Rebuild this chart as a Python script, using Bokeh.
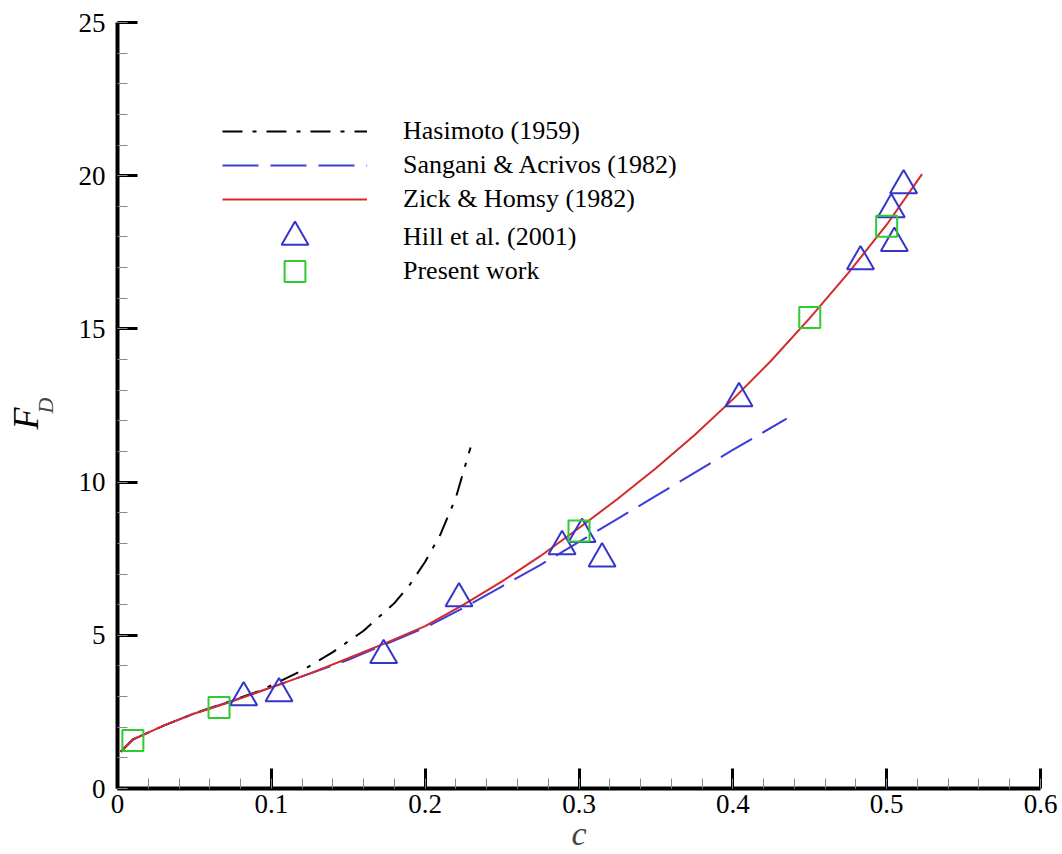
from bokeh.plotting import figure
from bokeh.models import Range1d, Legend, LegendItem, FixedTicker, Title
from bokeh.embed import file_html
from bokeh.resources import INLINE

# ---- data ----
zick_c = [0.002, 0.01, 0.03, 0.05, 0.075, 0.1, 0.125, 0.15, 0.175, 0.2, 0.225, 0.25,
          0.275, 0.3, 0.325, 0.35, 0.375, 0.4, 0.425, 0.45, 0.475, 0.5, 0.523]
zick_F = [1.2, 1.6, 2.05, 2.45, 2.85, 3.3, 3.75, 4.25, 4.76, 5.3, 6.0, 6.76,
          7.59, 8.5, 9.45, 10.45, 11.53, 12.7, 13.97, 15.35, 16.82, 18.4, 20.05]

sangani_c = [0.002, 0.01, 0.03, 0.05, 0.1, 0.15, 0.2, 0.225, 0.25, 0.275, 0.3, 0.325, 0.35,
             0.375, 0.4, 0.435]
sangani_F = [1.2, 1.6, 2.05, 2.45, 3.3, 4.2, 5.25, 5.9, 6.6, 7.3, 8.05, 8.8, 9.55,
             10.3, 11.05, 12.07]

hasimoto_c = [0.002, 0.01, 0.03, 0.05, 0.075, 0.093, 0.12, 0.14, 0.16, 0.18, 0.19, 0.2,
              0.21, 0.22, 0.2295]
hasimoto_F = [1.2, 1.6, 2.05, 2.45, 2.88, 3.2, 3.85, 4.45, 5.15, 6.05, 6.65, 7.4,
              8.3, 9.5, 11.13]

hill_c = [0.082, 0.105, 0.173, 0.222, 0.289, 0.302, 0.315, 0.404, 0.483, 0.503, 0.505, 0.511]
hill_F = [2.97, 3.1, 4.35, 6.2, 7.9, 8.3, 7.5, 12.73, 17.2, 18.9, 17.8, 19.68]

present_c = [0.01, 0.066, 0.3, 0.45, 0.5]
present_F = [1.57, 2.64, 8.4, 15.37, 18.35]

x_ticks = [0, 0.1, 0.2, 0.3, 0.4, 0.5, 0.6]
x_tick_labels = ["0", "0.1", "0.2", "0.3", "0.4", "0.5", "0.6"]
x_minor = [i * 0.02 for i in range(31)]
y_ticks = [0, 5, 10, 15, 20, 25]
y_tick_labels = ["0", "5", "10", "15", "20", "25"]
y_minor = [float(i) for i in range(26)]

labels = ["Hasimoto (1959)", "Sangani & Acrivos (1982)", "Zick & Homsy (1982)",
          "Hill et al. (2001)", "Present work"]
x_title = "c"
y_title_main = "F"
y_title_sub = "D"

FONT = "Liberation Serif"

p = figure(width=1062, height=854, output_backend="svg", toolbar_location=None,
           x_range=Range1d(0, 0.6), y_range=Range1d(0, 25),
           min_border_left=117, min_border_right=22, min_border_top=22, min_border_bottom=66)
p.outline_line_color = None
p.background_fill_color = "white"
p.border_fill_color = "white"
p.grid.visible = False

for ax, ticks, tl, mt in ((p.xaxis[0], x_ticks, x_tick_labels, x_minor),
                          (p.yaxis[0], y_ticks, y_tick_labels, y_minor)):
    ax.ticker = FixedTicker(ticks=ticks, minor_ticks=mt)
    ax.major_label_overrides = {t: l for t, l in zip(ticks, tl)}
    ax.axis_line_width = 4
    ax.axis_line_color = "black"
    ax.major_tick_in = 20
    ax.major_tick_out = 0
    ax.major_tick_line_width = 3
    ax.major_tick_line_color = "black"
    ax.minor_tick_in = 10
    ax.minor_tick_out = 0
    ax.minor_tick_line_width = 1
    ax.minor_tick_line_color = "#888888"
    ax.major_label_text_font = FONT
    ax.major_label_text_font_size = "27px"
    ax.major_label_text_color = "black"

xa = p.xaxis[0]
xa.major_label_standoff = 6
xa.axis_label = x_title
xa.axis_label_text_font = FONT
xa.axis_label_text_font_style = "italic"
xa.axis_label_text_font_size = "34px"
xa.axis_label_standoff = -1

ya = p.yaxis[0]
ya.major_label_standoff = 12
ya.axis_label = y_title_sub
ya.axis_label_text_font = FONT
ya.axis_label_text_font_style = "italic"
ya.axis_label_text_font_size = "22px"
ya.axis_label_standoff = 18

tF = Title(text=y_title_main, align="left", offset=359, standoff=-32,
           vertical_align="bottom", text_font=FONT, text_font_style="italic",
           text_font_size="36px", text_color="black")
p.add_layout(tF, "left")

r_has = p.line(hasimoto_c, hasimoto_F, line_color="black", line_width=2, line_dash="20 10 4 10")
r_san = p.line(sangani_c, sangani_F, line_color="#3c3cdc", line_width=2, line_dash="36 12")
r_zick = p.line(zick_c, zick_F, line_color="#d42a2a", line_width=2)
r_hill = p.scatter(hill_c, hill_F, marker="triangle", size=27, fill_alpha=0,
                   line_color="#3535cc", line_width=2)
r_pres = p.scatter(present_c, present_F, marker="square", size=21, fill_alpha=0,
                   line_color="#2ecc2e", line_width=2)


def make_legend(items, loc, gh):
    lg = Legend(items=items, location=loc)
    lg.border_line_color = None
    lg.background_fill_alpha = 0
    lg.padding = 0
    lg.margin = 0
    lg.spacing = 0
    lg.glyph_width = 145
    lg.glyph_height = gh
    lg.label_height = gh
    lg.label_standoff = 36
    lg.label_text_font = FONT
    lg.label_text_font_size = "26px"
    lg.label_text_color = "black"
    lg.label_text_baseline = "middle"
    return lg


p.add_layout(make_legend([LegendItem(label=labels[0], renderers=[r_has]),
                          LegendItem(label=labels[1], renderers=[r_san]),
                          LegendItem(label=labels[2], renderers=[r_zick])],
                         (105, 572), 34), "center")
p.add_layout(make_legend([LegendItem(label=labels[3], renderers=[r_hill])],
                         (105, 518), 67), "center")
p.add_layout(make_legend([LegendItem(label=labels[4], renderers=[r_pres])],
                         (105, 491), 52), "center")

open("out.html", "w").write(file_html(p, INLINE))
